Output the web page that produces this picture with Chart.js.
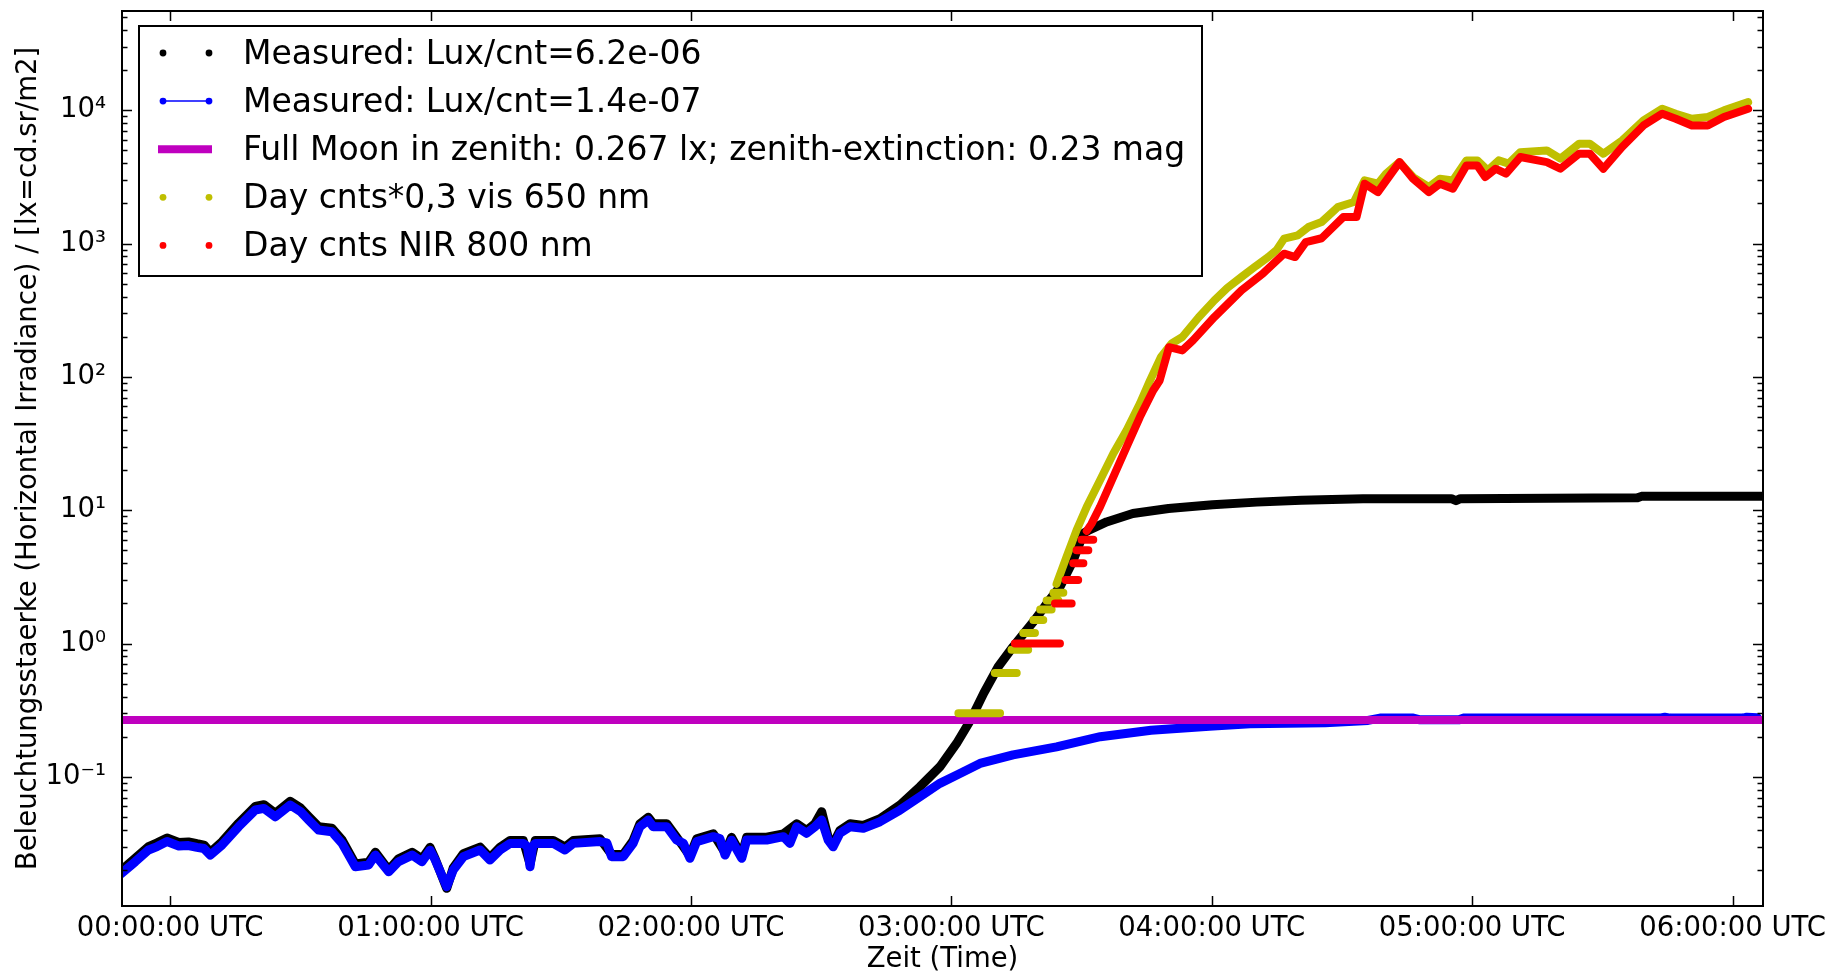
<!DOCTYPE html>
<html lang="de">
<head>
<meta charset="UTF-8">
<title>Beleuchtungsstaerke</title>
<script src="https://cdn.jsdelivr.net/npm/chart.js"></script>
<style>
  html, body { margin: 0; padding: 0; background: #ffffff; }
  #chart { display: block; }
</style>
</head>
<body>
<canvas id="chart" width="1841" height="972"></canvas>
<script>
// time axis in hours after 00:00 UTC, values in lx
const blackTime = [-0.19, -0.134, -0.083, -0.05, -0.012, 0.033, 0.07, 0.103, 0.13, 0.154, 0.199, 0.263, 0.327, 0.36, 0.404,
  0.461, 0.5, 0.532, 0.57, 0.621, 0.66, 0.711, 0.762, 0.788, 0.839, 0.877, 0.929, 0.967, 0.998, 1.017, 1.062, 1.087, 1.126,
  1.19, 1.228, 1.267, 1.305, 1.356, 1.382, 1.402, 1.471, 1.516, 1.548, 1.651, 1.695, 1.74, 1.778, 1.804, 1.836, 1.855, 1.907,
  1.945, 1.996, 2.022, 2.086, 2.131, 2.156, 2.195, 2.214, 2.291, 2.355, 2.406, 2.444, 2.476, 2.502, 2.527, 2.546, 2.572, 2.611,
  2.662, 2.726, 2.803, 2.879, 2.956, 3.02, 3.074, 3.124, 3.18, 3.237, 3.32, 3.375, 3.417, 3.468, 3.507, 3.528, 3.596, 3.697,
  3.834, 4.003, 4.173, 4.343, 4.581, 4.92, 4.938, 4.955, 5.635, 5.65, 6.13];
const blackLux = [0.0198, 0.0245, 0.030, 0.032, 0.0348, 0.0322, 0.0325, 0.0315, 0.0308, 0.0272, 0.0326, 0.045, 0.060, 0.0618, 0.0533,
  0.0655, 0.0585, 0.0503, 0.0423, 0.0412, 0.0336, 0.0222, 0.0229, 0.0272, 0.0200, 0.0243, 0.0272, 0.0243, 0.0296, 0.0245, 0.0146, 0.0208, 0.0265,
  0.0297, 0.0248, 0.0297, 0.0333, 0.0333, 0.0222, 0.0333, 0.0333, 0.0298, 0.0333, 0.0343, 0.0262, 0.0262, 0.0333, 0.0445, 0.0498, 0.0445, 0.0445,
  0.0353, 0.0255, 0.0343, 0.0374, 0.027, 0.0352, 0.0255, 0.0353, 0.0353, 0.0374, 0.0445, 0.0396, 0.0445, 0.0548, 0.0352, 0.0313, 0.0396, 0.0445,
  0.0432, 0.0485, 0.0615, 0.0843, 0.119, 0.178, 0.267, 0.423, 0.67, 0.946, 1.5, 2.1, 2.66, 4.2, 6.7, 7.08, 8.17, 9.45,
  10.3, 11.0, 11.5, 11.9, 12.2, 12.2, 11.8, 12.2, 12.4, 12.7, 12.7];

const blueTime = [-0.19, -0.134, -0.083, -0.05, -0.012, 0.033, 0.07, 0.103, 0.13, 0.154, 0.199, 0.263, 0.327, 0.36, 0.404,
  0.461, 0.5, 0.532, 0.57, 0.621, 0.66, 0.711, 0.762, 0.788, 0.839, 0.877, 0.929, 0.967, 0.998, 1.017, 1.062, 1.087, 1.126,
  1.19, 1.228, 1.267, 1.305, 1.356, 1.372, 1.382, 1.392, 1.402, 1.471, 1.516, 1.548, 1.651, 1.677, 1.695, 1.74, 1.778, 1.804,
  1.836, 1.855, 1.907, 1.945, 1.971, 1.996, 2.022, 2.086, 2.111, 2.131, 2.156, 2.195, 2.214, 2.291, 2.355, 2.38, 2.406, 2.444,
  2.476, 2.502, 2.527, 2.546, 2.572, 2.611, 2.662, 2.726, 2.803, 2.879, 2.956, 3.033, 3.11, 3.237, 3.404, 3.572, 3.767, 3.991,
  4.147, 4.435, 4.6, 4.646, 4.774, 4.8, 4.95, 4.966, 5.72, 5.74, 5.76, 6.04, 6.055, 6.095];
const blueLux = [0.0187, 0.0231, 0.0283, 0.030, 0.0327, 0.0303, 0.0305, 0.0296, 0.029, 0.0259, 0.0308, 0.0423, 0.0564, 0.058, 0.0502,
  0.0615, 0.055, 0.0474, 0.0399, 0.0388, 0.0317, 0.0212, 0.0218, 0.0259, 0.0194, 0.0231, 0.0259, 0.0231, 0.0282, 0.024, 0.015, 0.020, 0.0252,
  0.0283, 0.0238, 0.0283, 0.0317, 0.0317, 0.0300, 0.0212, 0.0300, 0.0317, 0.0317, 0.0283, 0.0317, 0.0327, 0.032, 0.0252, 0.0252, 0.0317, 0.0423,
  0.0474, 0.0423, 0.0423, 0.0336, 0.0317, 0.0245, 0.0327, 0.0356, 0.0345, 0.0259, 0.0335, 0.0245, 0.0336, 0.0336, 0.0356, 0.0317, 0.0423, 0.0377,
  0.0423, 0.0474, 0.0336, 0.0299, 0.0377, 0.0423, 0.0411, 0.0461, 0.0564, 0.071, 0.0894, 0.106, 0.126, 0.146, 0.168, 0.2, 0.224, 0.240,
  0.25, 0.255, 0.265, 0.276, 0.276, 0.268, 0.268, 0.276, 0.276, 0.28, 0.276, 0.276, 0.28, 0.278];

const moonLux = 0.267;

// null marks a break between the quantised steps
const visTime = [3.027, 3.187, 3.187, 3.167, 3.251, 3.251, 3.231, 3.295, 3.295, 3.276, 3.321, 3.321, 3.315, 3.353, 3.353,
  3.341, 3.385, 3.385, 3.366, 3.411, 3.411, 3.392, 3.43, 3.43,
  3.404, 3.443, 3.481, 3.52, 3.571, 3.622, 3.673, 3.724, 3.763, 3.805, 3.846, 3.887, 3.95, 4.01, 4.06, 4.114, 4.17, 4.217,
  4.25, 4.278, 4.33, 4.371, 4.422, 4.484, 4.546, 4.587, 4.638, 4.669, 4.721, 4.773, 4.834, 4.876, 4.926, 4.978, 5.02, 5.06,
  5.102, 5.14, 5.185, 5.287, 5.339, 5.411, 5.452, 5.504, 5.576, 5.658, 5.73, 5.782, 5.844, 5.905, 5.967, 6.06];
const visLux = [0.3, 0.3, null, 0.6, 0.6, null, 0.9, 0.9, null, 1.2, 1.2, null, 1.5, 1.5, null,
  1.8, 1.8, null, 2.1, 2.1, null, 2.4, 2.4, null,
  2.8, 4.5, 7.1, 10.6, 16.8, 26.6, 39.8, 63, 94, 141, 178, 199, 280, 375, 465, 561, 680, 792,
  900, 1089, 1152, 1330, 1450, 1878, 2048, 2978, 2810, 3342, 4083, 3155, 2655, 3068, 2978, 4205, 4205, 3539,
  4205, 3980, 4850, 4998, 4330, 5610, 5610, 4720, 5940, 8400, 10260, 9420, 8630, 8900, 9970, 11500];

const nirTime = [3.244, 3.417, 3.417, 3.398, 3.462, 3.462, 3.439, 3.487, 3.487, 3.468, 3.507, 3.507, 3.481, 3.526, 3.526,
  3.5, 3.545, 3.545,
  3.52, 3.538, 3.571, 3.622, 3.673, 3.724, 3.775, 3.8, 3.836, 3.887, 3.928, 4.01, 4.114, 4.196, 4.278, 4.32, 4.361, 4.422,
  4.505, 4.556, 4.587, 4.638, 4.721, 4.773, 4.834, 4.876, 4.926, 4.978, 5.02, 5.05, 5.09, 5.13, 5.185, 5.287, 5.339, 5.411,
  5.452, 5.504, 5.576, 5.658, 5.73, 5.782, 5.844, 5.905, 5.967, 6.06];
const nirLux = [1, 1, null, 2, 2, null, 3, 3, null, 4, 4, null, 5, 5, null,
  6, 6, null,
  7, 7.9, 10.6, 17.8, 29.8, 50, 79, 94, 167, 158, 188, 281, 446, 595, 840, 792, 1026, 1096,
  1580, 1580, 2810, 2432, 4083, 3068, 2432, 2810, 2578, 3855, 3855, 3155, 3640, 3342, 4455, 4083, 3640, 4720,
  4720, 3640, 5300, 7690, 9420, 8630, 7690, 7690, 8890, 10260];

const hourTicks = [0, 1, 2, 3, 4, 5, 6];
const decadeTicks = [0.1, 1, 10, 100, 1000, 10000];
const xRange = [-0.185, 6.117];
const yRange = [0.01075, 55500];

const yTitle = 'Beleuchtungsstaerke (Horizontal Irradiance) / [lx=cd.sr/m2]';

function pairs(ts, vs) {
  return ts.map((t, i) => ({ x: t, y: vs[i] }));
}

const sup = { '-': '\u207B', '0': '\u2070', '1': '\u00B9', '2': '\u00B2', '3': '\u00B3', '4': '\u2074' };
function decadeLabel(v) {
  const e = String(Math.round(Math.log10(v)));
  return '10' + e.split('').map(c => sup[c]).join('');
}

// frame and inward tick marks, matplotlib style
const framePlugin = {
  id: 'frame',
  afterDatasetsDraw(chart) {
    const { ctx, chartArea: a, scales: { x, y } } = chart;
    ctx.save();
    ctx.strokeStyle = '#000';
    ctx.lineWidth = 1.5;
    ctx.beginPath();
    hourTicks.forEach(h => {
      const px = Math.round(x.getPixelForValue(h)) + 0.5;
      ctx.moveTo(px, a.bottom); ctx.lineTo(px, a.bottom - 10);
      ctx.moveTo(px, a.top); ctx.lineTo(px, a.top + 10);
    });
    for (let k = -2; k <= 4; k++) {
      for (let m = 1; m <= 9; m++) {
        const v = m * Math.pow(10, k);
        if (v < yRange[0] || v > yRange[1]) continue;
        const len = m === 1 ? 10 : 5.5;
        const py = Math.round(y.getPixelForValue(v)) + 0.5;
        ctx.moveTo(a.left, py); ctx.lineTo(a.left + len, py);
        ctx.moveTo(a.right, py); ctx.lineTo(a.right - len, py);
      }
    }
    ctx.stroke();
    ctx.lineWidth = 2;
    ctx.strokeRect(a.left, a.top, a.right - a.left, a.bottom - a.top);
    ctx.restore();
  }
};

// boxed legend with two-marker samples
const legendPlugin = {
  id: 'boxLegend',
  afterDraw(chart) {
    const ctx = chart.ctx;
    ctx.save();
    ctx.fillStyle = '#fff';
    ctx.fillRect(139, 26, 1063, 250);
    ctx.lineWidth = 2;
    ctx.strokeStyle = '#000';
    ctx.strokeRect(139, 26, 1063, 250);
    ctx.font = '33px "DejaVu Sans"';
    ctx.textBaseline = 'middle';
    chart.data.datasets.forEach((ds, i) => {
      const cy = 53 + i * 48.1;
      const col = ds.borderColor;
      if (ds.sample === 'bar') {
        ctx.strokeStyle = col;
        ctx.lineWidth = 8;
        ctx.beginPath(); ctx.moveTo(158, cy); ctx.lineTo(212, cy); ctx.stroke();
      } else {
        if (ds.sample === 'lineDots') {
          ctx.strokeStyle = col;
          ctx.lineWidth = 1.5;
          ctx.beginPath(); ctx.moveTo(163, cy); ctx.lineTo(209, cy); ctx.stroke();
        }
        ctx.fillStyle = col;
        [163, 209].forEach(px => {
          ctx.beginPath(); ctx.arc(px, cy, 3.4, 0, Math.PI * 2); ctx.fill();
        });
      }
      ctx.fillStyle = '#000';
      ctx.fillText(ds.label, 243, cy + 2);
    });
    ctx.restore();
  }
};

Chart.defaults.font.family = '"DejaVu Sans", sans-serif';
Chart.defaults.font.size = 27.5;
Chart.defaults.color = '#000';

const lineStyle = { pointRadius: 0, pointHoverRadius: 0, borderCapStyle: 'round', borderJoinStyle: 'round', tension: 0, clip: 0, spanGaps: false };

new Chart(document.getElementById('chart'), {
  type: 'line',
  data: {
    datasets: [
      { ...lineStyle, label: 'Measured: Lux/cnt=6.2e-06', data: pairs(blackTime, blackLux), borderColor: '#000000', borderWidth: 9, sample: 'dots', order: 5 },
      { ...lineStyle, label: 'Measured: Lux/cnt=1.4e-07', data: pairs(blueTime, blueLux), borderColor: '#0000ff', borderWidth: 9, sample: 'lineDots', order: 4 },
      { ...lineStyle, label: 'Full Moon in zenith: 0.267 lx; zenith-extinction: 0.23 mag', data: pairs(xRange, [moonLux, moonLux]), borderColor: '#bf00bf', borderWidth: 8, borderCapStyle: 'butt', sample: 'bar', order: 3 },
      { ...lineStyle, label: 'Day cnts*0,3 vis 650 nm', data: pairs(visTime, visLux), borderColor: '#bfbf00', borderWidth: 8, sample: 'dots', order: 2 },
      { ...lineStyle, label: 'Day cnts NIR 800 nm', data: pairs(nirTime, nirLux), borderColor: '#ff0000', borderWidth: 8, sample: 'dots', order: 1 }
    ]
  },
  options: {
    responsive: false,
    animation: false,
    devicePixelRatio: 1,
    layout: { padding: { top: 11, right: 78, left: 0, bottom: 0 } },
    plugins: { legend: { display: false }, tooltip: { enabled: false } },
    scales: {
      x: {
        type: 'linear',
        min: xRange[0],
        max: xRange[1],
        afterBuildTicks: s => { s.ticks = hourTicks.map(v => ({ value: v })); },
        afterFit: s => { s.height = 66; s.paddingLeft = 0; s.paddingRight = 0; },
        grid: { display: false },
        border: { display: false },
        ticks: {
          autoSkip: false,
          maxRotation: 0,
          padding: -2,
          callback: v => String(v).padStart(2, '0') + ':00:00 UTC'
        },
        title: { display: true, text: 'Zeit (Time)', padding: { top: 0, bottom: -4.5 } }
      },
      y: {
        type: 'logarithmic',
        min: yRange[0],
        max: yRange[1],
        afterBuildTicks: s => { s.ticks = decadeTicks.map(v => ({ value: v })); },
        afterFit: s => { s.width = 122; s.paddingTop = 0; s.paddingBottom = 0; },
        grid: { display: false },
        border: { display: false },
        ticks: { autoSkip: false, padding: 8, callback: v => decadeLabel(v) },
        title: { display: true, text: yTitle, padding: { top: 12.5, bottom: 0 } }
      }
    }
  },
  plugins: [framePlugin, legendPlugin]
});
</script>
</body>
</html>
